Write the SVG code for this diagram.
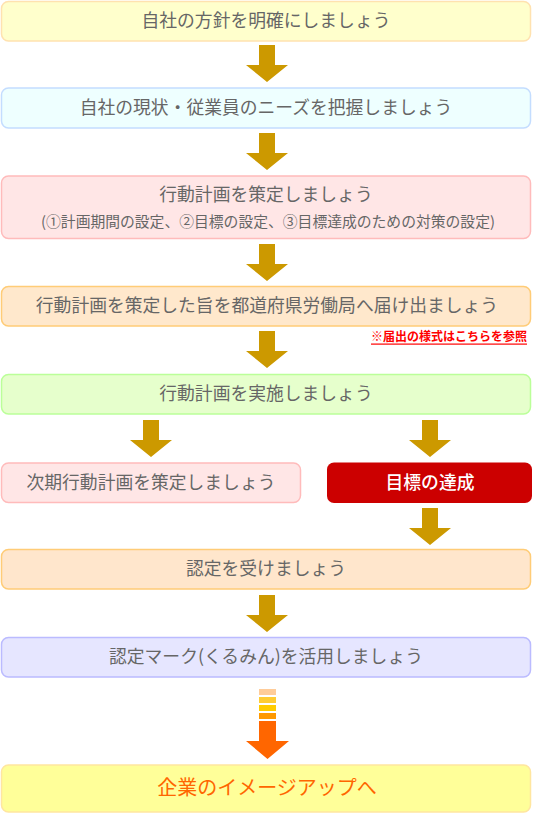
<svg xmlns="http://www.w3.org/2000/svg" width="533" height="815" viewBox="0 0 533 815">
<style>
.t{font-family:"Noto Sans CJK JP","Noto Sans",sans-serif;font-size:17.8px;fill:#666666;text-anchor:middle}
.s{font-size:14.8px}
.b{stroke-width:1.5}
.arw{fill:#cc9900}
</style>
<defs>
<path id="ar" d="M-8,0 H8 V20 H21 L0,37 L-21,20 H-8 Z"/>
</defs>
<rect width="533" height="815" fill="#ffffff"/>
<g id="n1"><rect class="b" x="1.5" y="1.5" width="529" height="39.5" rx="7" fill="#ffffcc" stroke="#ffe2b0"/><text class="t" x="266" y="27">自社の方針を明確にしましょう</text></g>
<g id="n2"><rect class="b" x="1.5" y="88" width="529" height="40" rx="7" fill="#eeffff" stroke="#c4ddff"/><text class="t" x="266" y="114">自社の現状・従業員のニーズを把握しましょう</text></g>
<g id="n3"><rect class="b" x="1.5" y="176" width="529" height="62.5" rx="7" fill="#ffe6e6" stroke="#ffbbbb"/><text class="t" x="266" y="201">行動計画を策定しましょう</text><text class="t s" x="268" y="227">(①計画期間の設定、②目標の設定、③目標達成のための対策の設定)</text></g>
<g id="n4"><rect class="b" x="1.5" y="286.5" width="529" height="39.5" rx="7" fill="#ffe8cc" stroke="#ffcc77"/><text class="t" x="267" y="312">行動計画を策定した旨を都道府県労働局へ届け出ましょう</text></g>
<g id="note"><text x="527" y="341" font-family="Noto Sans CJK JP,sans-serif" font-size="12" font-weight="bold" fill="#ff0000" text-anchor="end">※届出の様式はこちらを参照</text><rect x="371" y="343.5" width="156" height="1.2" fill="#ff0000"/></g>
<g id="n5"><rect class="b" x="1.5" y="374.5" width="529" height="39.5" rx="7" fill="#e6ffcc" stroke="#bbff99"/><text class="t" x="266" y="400">行動計画を実施しましょう</text></g>
<g id="n6"><rect class="b" x="1.5" y="463" width="299" height="39.5" rx="7" fill="#ffe6e6" stroke="#ffbbbb"/><text class="t" x="151" y="489">次期行動計画を策定しましょう</text></g>
<g id="n7"><rect x="327" y="462.5" width="205" height="40.5" rx="7" fill="#cc0000"/><text class="t" x="430" y="489" style="fill:#ffffff;font-weight:500">目標の達成</text></g>
<g id="n8"><rect class="b" x="1.5" y="549.5" width="529" height="39.5" rx="7" fill="#ffe6cc" stroke="#ffcc77"/><text class="t" x="266" y="575">認定を受けましょう</text></g>
<g id="n9"><rect class="b" x="1.5" y="637.5" width="529" height="39.5" rx="7" fill="#e6e6ff" stroke="#bbbbff"/><text class="t" x="266" y="663">認定マーク(くるみん)を活用しましょう</text></g>
<g id="n10"><rect class="b" x="1.5" y="765" width="529" height="47" rx="7" fill="#ffff99" stroke="#ffe6a0"/><text class="t" x="267" y="795" style="fill:#ff6600;font-size:20px">企業のイメージアップへ</text></g>
<g id="connectors">
<use href="#ar" class="arw" x="267" y="45"/>
<use href="#ar" class="arw" x="267" y="133"/>
<use href="#ar" class="arw" x="267" y="244"/>
<use href="#ar" class="arw" x="267" y="331"/>
<use href="#ar" class="arw" x="151" y="420"/>
<use href="#ar" class="arw" x="430" y="420"/>
<use href="#ar" class="arw" x="430" y="508"/>
<use href="#ar" class="arw" x="267" y="595"/>
<g id="grad-arrow">
<rect x="259" y="689" width="17" height="6" fill="#ffcc99"/>
<rect x="259" y="697" width="17" height="6" fill="#ffcc33"/>
<rect x="259" y="705" width="17" height="6" fill="#ffcc00"/>
<rect x="259" y="713" width="17" height="6" fill="#ff9900"/>
<path d="M259,721 H276 V741 H289 L267.5,759 L246,741 H259 Z" fill="#ff6600"/>
</g>
</g>
</svg>
